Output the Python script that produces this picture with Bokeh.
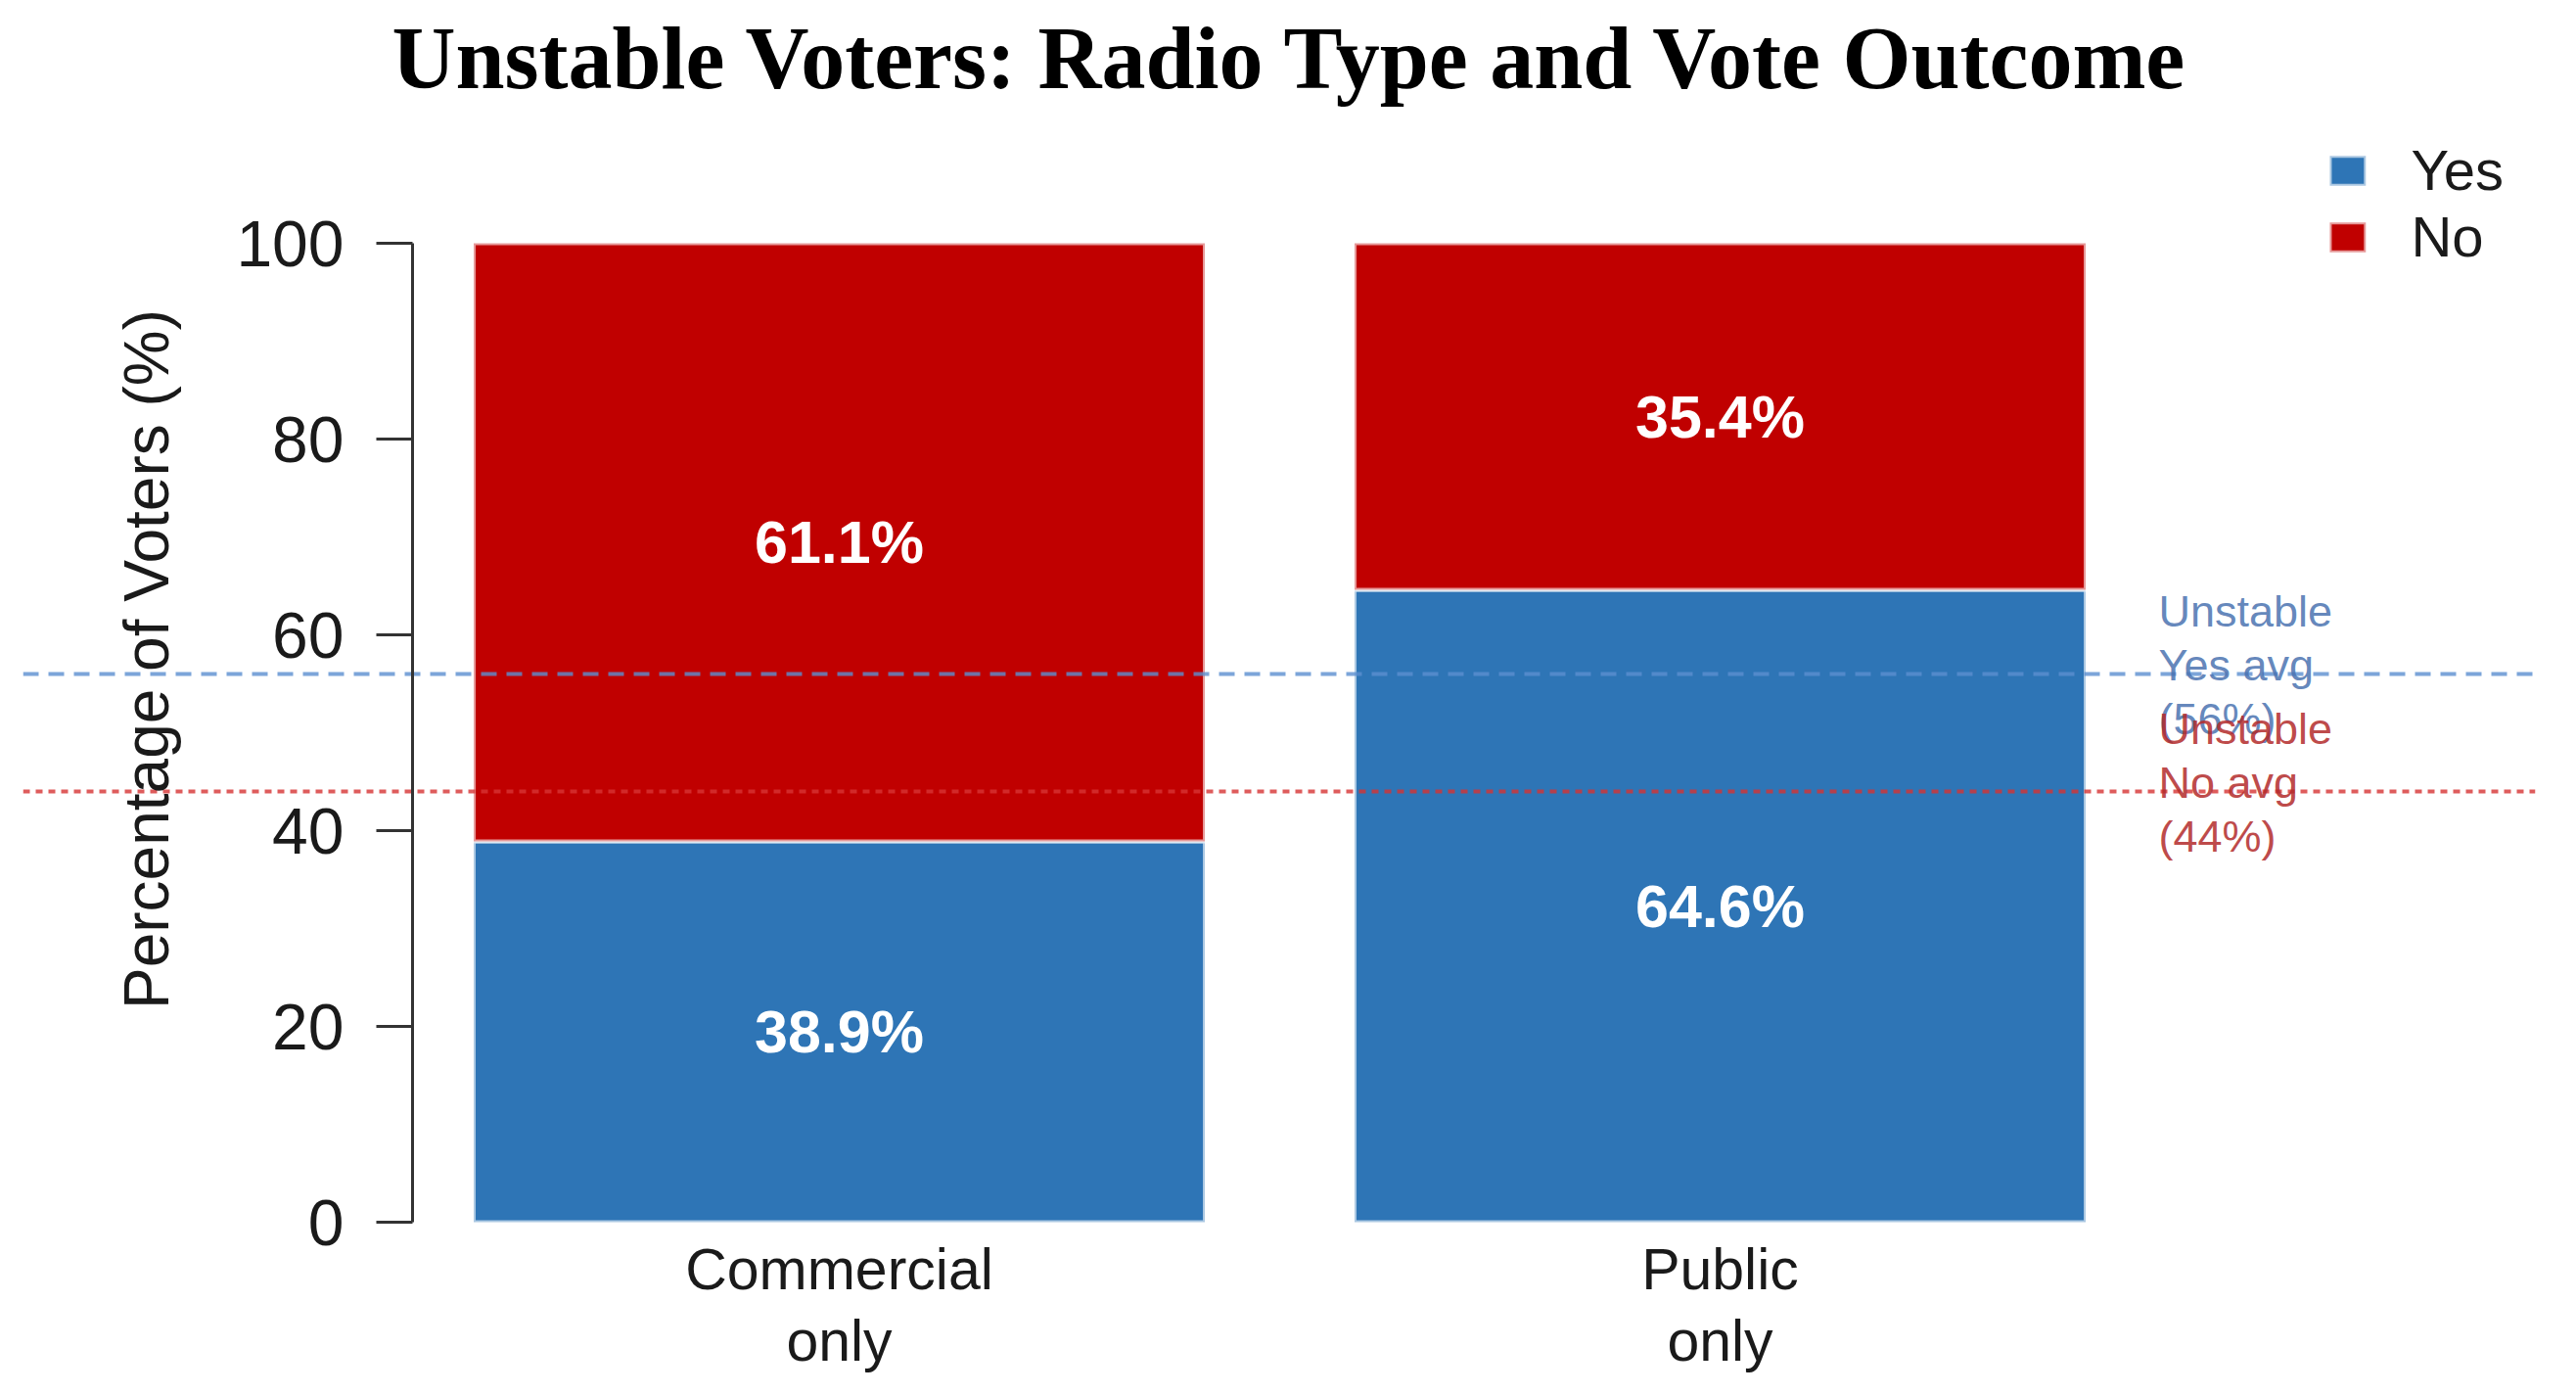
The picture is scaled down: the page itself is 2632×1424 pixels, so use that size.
from bokeh.plotting import figure
from bokeh.models import (Range1d, FixedTicker, Legend, LegendItem,
                          ColumnDataSource, LinearAxis)
from bokeh.embed import file_html
from bokeh.resources import INLINE
from bokeh.core.properties import value

# ---------------- data ----------------
chart_title = "Unstable Voters: Radio Type and Vote Outcome"
categories = ["Commercial\nonly", "Public\nonly"]
series_names = ["Yes", "No"]
yes_pct = [38.9, 64.6]
no_pct = [61.1, 35.4]
avg_names = ["Yes", "No"]
avg_values = [56, 44]
y_ticks = [0, 20, 40, 60, 80, 100]
y_label = "Percentage of Voters (%)"

# ---------------- styling / layout ----------------
BLUE = "#2E75B6"
RED = "#C00000"
AVG_LINE_COLORS = ["#5B8FD0", "#D63333"]
AVG_LINE_DASH = ["16 10", "7 6"]
AVG_TEXT_COLORS = ["#4A72B0", "#B22A2A"]
SANS = "Liberation Sans"

W, H = 2616, 1406
FRAME_L, FRAME_R = 23, 2590
TOP = 108
PX_PER_CAT = 900.0
C0 = 857.0
AXIS_PX = 421
n = len(categories)
x_start = -(C0 - FRAME_L) / PX_PER_CAT
x_end = (n - 1) + (FRAME_R - (C0 + (n - 1) * PX_PER_CAT)) / PX_PER_CAT
axis_x = x_start + (AXIS_PX - FRAME_L) / PX_PER_CAT
ann_x = (n - 1) + (2205 - (C0 + (n - 1) * PX_PER_CAT)) / PX_PER_CAT
PX_PER_UNIT = 10.0
Y100 = 248
y_end = 100 + (Y100 - TOP) / PX_PER_UNIT
y_start = y_end - (H - TOP) / PX_PER_UNIT

p = figure(width=W, height=H,
           x_range=Range1d(x_start, x_end), y_range=Range1d(y_start, y_end),
           output_backend="svg", toolbar_location=None,
           min_border_left=FRAME_L, min_border_right=W - FRAME_R,
           min_border_top=TOP, min_border_bottom=0)
p.outline_line_color = None
p.grid.visible = False
p.background_fill_color = "white"

p.title.text = chart_title
p.title.align = "left"
p.title.offset = 377
p.title.text_font = "Liberation Serif"
p.title.text_font_style = "bold"
p.title.text_font_size = "90px"
p.title.text_color = "black"
p.title.standoff = 0

xs = list(range(n))
tops = [y + q for y, q in zip(yes_pct, no_pct)]
src = ColumnDataSource(dict(x=xs, yes=yes_pct, no=no_pct, top=tops))

r_yes = p.vbar(x="x", bottom=0, top="yes", width=0.83, source=src,
               fill_color=BLUE, line_color="white", line_alpha=0.6, line_width=4)
r_no = p.vbar(x="x", bottom="yes", top="top", width=0.83, source=src,
              fill_color=RED, line_color="white", line_alpha=0.6, line_width=4)

# average lines across the whole plotting region
for v, c, dash in zip(avg_values, AVG_LINE_COLORS, AVG_LINE_DASH):
    p.segment(x0=[x_start], x1=[x_end], y0=[v], y1=[v], line_color=c,
              line_alpha=0.8, line_dash=dash, line_width=4)

# value labels
lab_x = xs + xs
lab_y = [y / 2 for y in yes_pct] + [y + q / 2 for y, q in zip(yes_pct, no_pct)]
lab_t = [f"{v:.1f}%" for v in yes_pct] + [f"{v:.1f}%" for v in no_pct]
p.text(x=lab_x, y=lab_y, text=lab_t, text_color="white", text_font=value(SANS),
       text_font_style="bold", text_font_size="61px", text_align="center",
       text_baseline="middle")

ann_text = [f"Unstable\n{nm} avg\n({v}%)" for nm, v in zip(avg_names, avg_values)]
p.text(x=[ann_x] * len(avg_values), y=avg_values, text=ann_text,
       text_color=AVG_TEXT_COLORS, text_alpha=0.85, text_font=value(SANS),
       text_font_size="45px", text_align="left", text_baseline="middle",
       text_line_height=1.07, y_offset=-9)

# x axis (drawn at y = 0)
xax = p.xaxis[0]
xax.fixed_location = 0
xax.ticker = FixedTicker(ticks=xs)
xax.major_label_overrides = {i: c for i, c in zip(xs, categories)}
xax.axis_line_color = None
xax.major_tick_line_color = None
xax.minor_tick_line_color = None
xax.major_label_text_font = SANS
xax.major_label_text_font_size = "59px"
xax.major_label_text_color = "#1a1a1a"
xax.major_label_text_line_height = 1.12
xax.major_label_standoff = 9

# y axis
yax = p.yaxis[0]
yax.fixed_location = axis_x
yax.ticker = FixedTicker(ticks=y_ticks)
yax.bounds = (0, 100)
yax.axis_line_color = "#333333"
yax.axis_line_width = 3
yax.major_tick_line_color = "#333333"
yax.major_tick_line_width = 3
yax.major_tick_out = 37
yax.major_tick_in = 0
yax.minor_tick_line_color = None
yax.major_label_text_font = SANS
yax.major_label_text_font_size = "66px"
yax.major_label_text_color = "#1a1a1a"
yax.major_label_standoff = 33

# axis carrying only the y title (centred as in the reference)
lab_axis = LinearAxis(fixed_location=axis_x, ticker=FixedTicker(ticks=[]),
                      bounds=(15, 100), axis_line_color=None,
                      major_tick_line_color=None, minor_tick_line_color=None,
                      major_tick_out=0, major_tick_in=0,
                      axis_label=y_label, axis_label_standoff=236,
                      axis_label_text_font=SANS, axis_label_text_font_size="64px",
                      axis_label_text_font_style="normal",
                      axis_label_text_color="#1a1a1a")
p.add_layout(lab_axis, "left")

legend = Legend(items=[LegendItem(label=series_names[0], renderers=[r_yes]),
                       LegendItem(label=series_names[1], renderers=[r_no])],
                location="top_right")
legend.label_text_font = SANS
legend.label_text_font_size = "58px"
legend.label_text_color = "#1a1a1a"
legend.glyph_width = 46
legend.glyph_height = 38
legend.label_standoff = 42
legend.label_width = 80
legend.label_height = 60
legend.spacing = 1
legend.padding = 20
legend.margin = 32
legend.border_line_color = None
legend.background_fill_alpha = 0
p.add_layout(legend)

open("out.html", "w").write(file_html(p, INLINE))
